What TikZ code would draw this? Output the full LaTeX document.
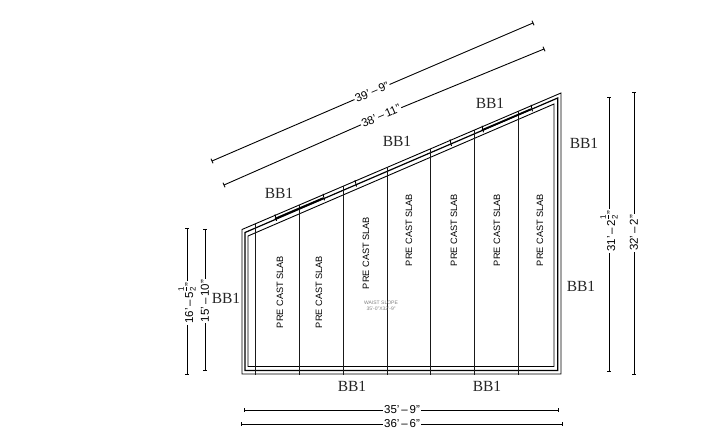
\documentclass[tikz,border=0pt]{standalone}
\usepackage{fontspec}
\setmainfont{Liberation Serif}
\setsansfont{Liberation Sans}
\usetikzlibrary{arrows.meta}
\newcommand{\fr}{\hspace{0.5pt}\raisebox{-2.5pt}{\shortstack[c]{\fontsize{8}{5.5}\selectfont 1\\[-0.6pt]\rule{4.5pt}{0.4pt}\\[0.2pt]\fontsize{8}{5.5}\selectfont 2}}\hspace{0.5pt}}
\tikzset{
 wall/.style={draw=black,line width=0.9pt,line join=miter},
 slabline/.style={draw=black!90,line width=0.9pt},
 beam/.style={draw=black,line width=1.8pt},
 tickm/.style={draw=black,line width=0.9pt},
 dimline/.style={draw=black,line width=0.9pt},
 dimtext/.style={font=\sffamily\fontsize{11.5}{12}\selectfont,inner sep=1pt,text=black},
 bb/.style={font=\fontsize{15.5}{16}\selectfont,inner sep=0pt,text=black!85},
 slab/.style={font=\sffamily\fontsize{9.2}{10}\selectfont,rotate=90,inner sep=0pt,text=black},
 note/.style={font=\sffamily\fontsize{5}{6}\selectfont,inner sep=0pt,text=black!50,align=center},
 endm/.style={draw=black,line width=0.9pt}
}
\begin{document}
\begin{tikzpicture}[x=1pt,y=-1pt]
\useasboundingbox (0,0) rectangle (727,447);
% walls
\draw[wall] (242,229.5) -- (561,93) -- (561,374) -- (242,374) -- cycle;
\draw[wall,line width=1.2pt] (245,232.5) -- (557.7,98) -- (557.7,370.5) -- (245,370.5) -- cycle;
\draw[wall] (248,236) -- (554,104) -- (554,366.5) -- (248,366.5) -- cycle;
% slabs
\foreach \n/\x in {a/255,b/299,c/343,d/387,e/430,f/474,g/518}{
  \pgfmathsetmacro{\ty}{229.5-0.428*(\x-242)}
  \coordinate (t\n) at (\x,\ty);
  \coordinate (u\n) at (\x,374.5);
  \draw[slabline] (t\n) -- (u\n);
}
% beams on the slope
\foreach \xa/\xb in {275/323,482/531}{
  \pgfmathsetmacro{\ya}{229.5-0.428*(\xa-242)+3.4}
  \pgfmathsetmacro{\yb}{229.5-0.428*(\xb-242)+3.4}
  \draw[beam] (\xa,\ya) -- (\xb,\yb);
}
\foreach \x in {275,323,355,450,482,531}{
  \pgfmathsetmacro{\ya}{229.5-0.428*(\x-242)-1}
  \pgfmathsetmacro{\yb}{229.5-0.428*(\x-242)+5.5}
  \draw[tickm] (\x,\ya) -- (\x+1.5,\yb);
}
% slab labels
\node[slab] (s1) at (280,292) {PRE CAST SLAB};
\node[slab] (s2) at (319,292) {PRE CAST SLAB};
\node[slab] (s3) at (366,253) {PRE CAST SLAB};
\node[slab] (s4) at (409,230) {PRE CAST SLAB};
\node[slab] (s5) at (454,230) {PRE CAST SLAB};
\node[slab] (s6) at (497,230) {PRE CAST SLAB};
\node[slab] (s7) at (540,230) {PRE CAST SLAB};
\node[note] (w) at (381,306) {WAIST SLOPE\\35'-0"X32'-9"};
% BB1
\node[bb] (b1) at (279,193) {BB1};
\node[bb] (b2) at (397,141) {BB1};
\node[bb] (b3) at (490,103) {BB1};
\node[bb] (b4) at (584,143) {BB1};
\node[bb] (b5) at (581,286) {BB1};
\node[bb] (b6) at (226,298) {BB1};
\node[bb] (b7) at (352,386) {BB1};
\node[bb] (b8) at (487,386) {BB1};
% dimensions
\newcommand{\dimrun}[6]{%
  \coordinate (#1a) at #2; \coordinate (#1b) at #3;
  \node[dimtext,rotate=#5] (#1t) at #4 {#6};
  \draw[dimline] (#1a) -- (#1t) -- (#1b);
}
\dimrun{d1}{(212,161)}{(533,23)}{(372,92)}{23.3}{39'\,--\,9"}
\dimrun{d2}{(224,185)}{(544,49)}{(381,116)}{23.3}{38'\,--\,11"}
\dimrun{d3}{(187,228)}{(187,374)}{(187,303)}{90}{16'\,--\,5\fr"}
\dimrun{d4}{(205,229)}{(205,370)}{(205,301)}{90}{15'\,--\,10"}
\dimrun{d5}{(609,97)}{(609,371)}{(609,231)}{90}{31'\,--\,2\fr"}
\dimrun{d6}{(634,92)}{(634,374)}{(634,233)}{90}{32'\,--\,2"}
\dimrun{d7}{(244,410)}{(558,410)}{(402,410)}{0}{35'\,--\,9"}
\dimrun{d8}{(241,424)}{(562,424)}{(402,424)}{0}{36'\,--\,6"}
\foreach \p/\dx/\dy in {d1a/1/2.3,d1b/1/2.3,d2a/1/2.3,d2b/1/2.3,d3a/2/0,d3b/2/0,d4a/2/0,d4b/2/0,d5a/2/0,d5b/2/0,d6a/2/0,d6b/2/0,d7a/0/2,d7b/0/2,d8a/0/2,d8b/0/2}{
  \draw[endm] ([xshift=-\dx pt,yshift=\dy pt]\p) -- ([xshift=\dx pt,yshift=-\dy pt]\p);
}
\end{tikzpicture}
\end{document}
